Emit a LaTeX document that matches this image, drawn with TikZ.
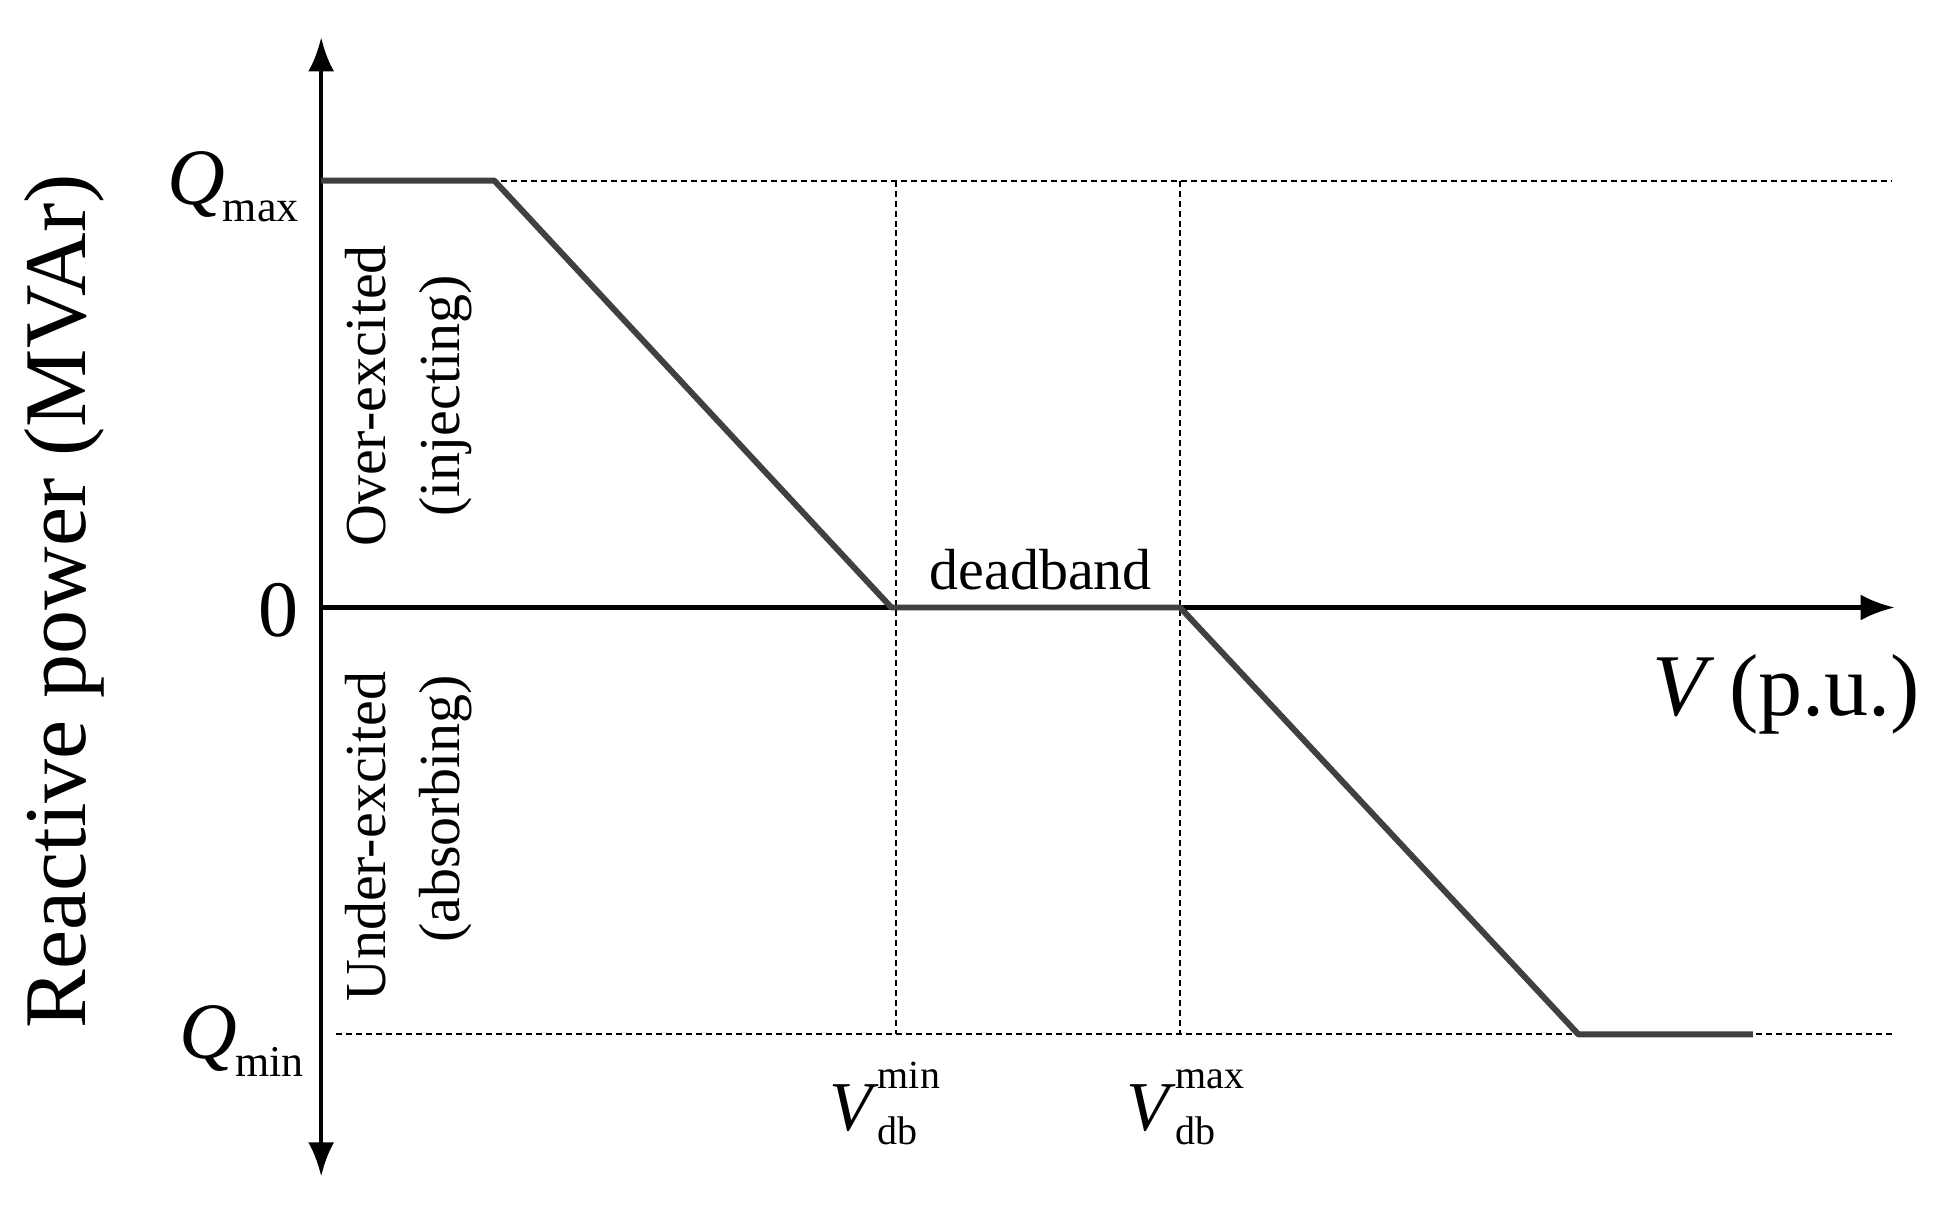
\documentclass[tikz,border=0pt]{standalone}
\usepackage{fontspec}
\setmainfont{Liberation Serif}
\usetikzlibrary{arrows.meta}
\newcommand{\qsub}[2]{\textit{#1}\kern-2pt\raisebox{-0.22em}{\fontsize{44}{46}\selectfont #2}}
\newcommand{\vdbl}[1]{\textit{V}\kern-1pt{\fontsize{40}{40}\selectfont\rlap{\raisebox{1.05em}{#1}}\raisebox{-0.35em}{db}\hphantom{#1}\hspace{-1.3em}}}
\begin{document}
\begin{tikzpicture}[x=1.245pt,y=-1.245pt,
  ax/.style={line width=4.5pt,-{Latex[length=34pt,width=26pt]}},
  dsh/.style={dash pattern=on 6pt off 4pt,line width=2pt},
  crv/.style={line width=6pt,draw={rgb,255:red,64;green,64;blue,64},line join=round},
  lab/.style={font=\fontsize{58}{62}\selectfont,inner sep=0pt},
  big/.style={font=\fontsize{88}{92}\selectfont,inner sep=0pt}]
\useasboundingbox (0,0) rectangle (1560,970);
\coordinate (o) at (258,488);
\coordinate (yb) at (258,945);
\coordinate (yt) at (258,30);
\coordinate (xr) at (1522,488);
\draw[ax] (o) -- (yt);
\draw[ax] (o) -- (yb);
\draw[ax] (o) -- (xr);
\draw[dsh] (258,145) -- (1520,145);
\draw[dsh] (270,831) -- (1520,831);
\draw[dsh] (720,145) -- (720,831);
\draw[dsh] (948,145) -- (948,831);
\draw[crv] (258,145) -- (397,145) -- (716,488) -- (948,488) -- (1268,831) -- (1408,831);
\node[lab,anchor=east,font=\fontsize{80}{84}\selectfont] at (240,150) {\qsub{Q}{max}};
\node[lab,anchor=east,font=\fontsize{80}{84}\selectfont] at (244,836) {\qsub{Q}{min}};
\node[lab,anchor=east,font=\fontsize{80}{84}\selectfont] at (240,490) {0};
\node[lab] (dd) at (836,458) {deadband};
\node[lab,font=\fontsize{70}{72}\selectfont,anchor=base west] (vmin) at (666,908) {\vdbl{min}};
\node[lab,font=\fontsize{70}{72}\selectfont,anchor=base west] (vmax) at (905,908) {\vdbl{max}};
\node[big] (vp) at (1435,558) {\textit{V}\,(p.u.)};
\node[big,rotate=90] (rp) at (52,483) {Reactive power (MVAr)};
\node[lab,rotate=90] at (294,318) {Over-excited};
\node[lab,rotate=90] at (358,318) {(injecting)};
\node[lab,rotate=90] at (294,672) {Under-excited};
\node[lab,rotate=90] at (358,650) {(absorbing)};
\end{tikzpicture}
\end{document}
